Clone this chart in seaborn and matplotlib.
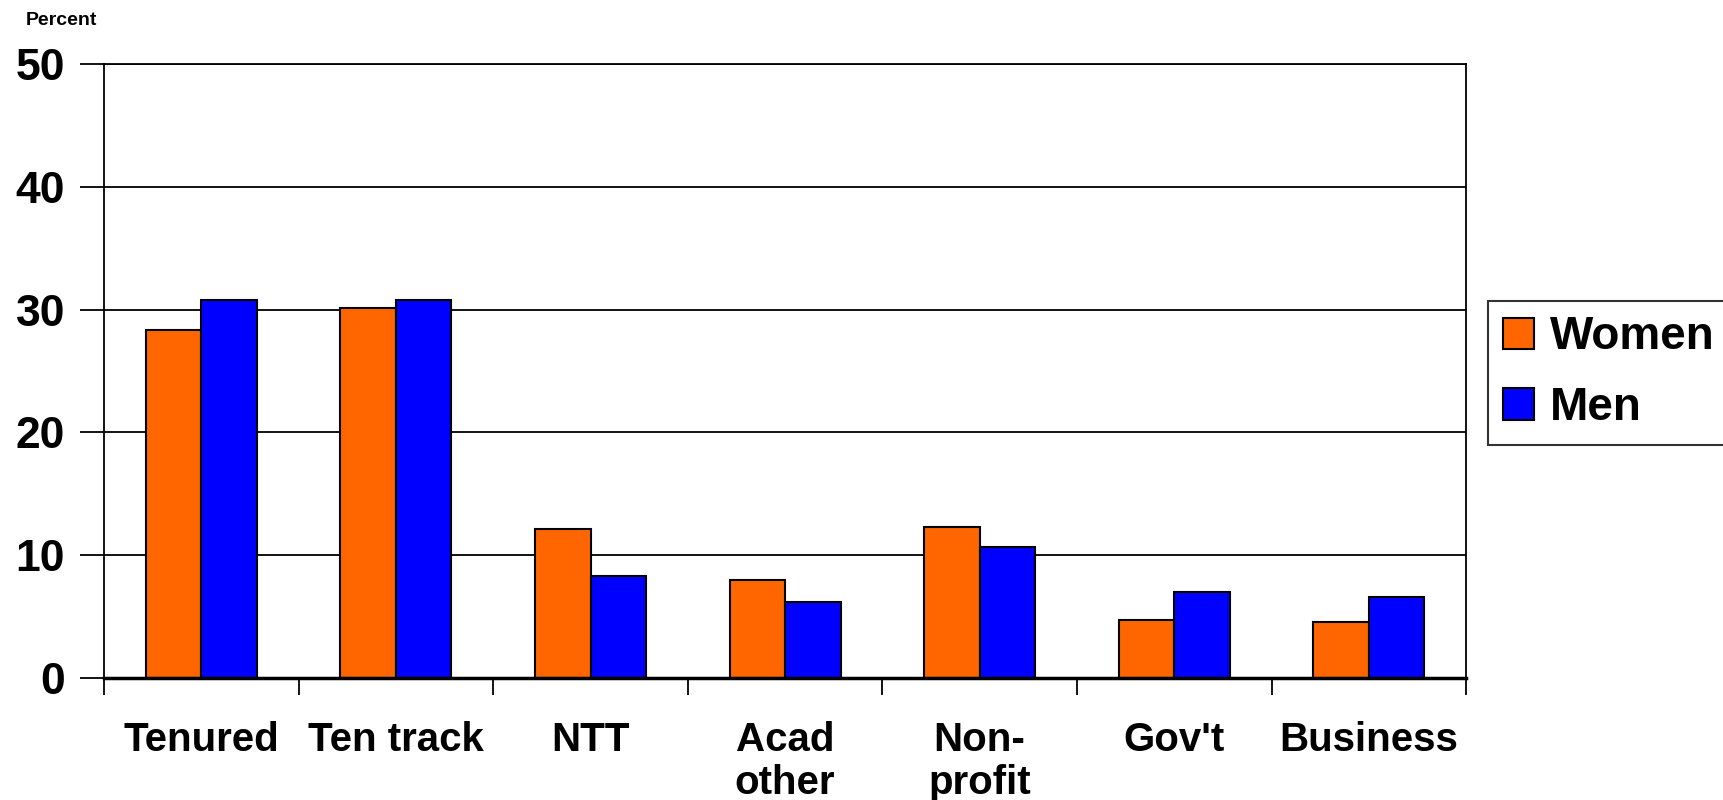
import pandas as pd
import matplotlib
matplotlib.use("Agg")
import matplotlib.pyplot as plt
import seaborn as sns

# values
categories = ["Tenured", "Ten track", "NTT", "Acad\nother", "Non-\nprofit", "Gov't", "Business"]
women = [28.3, 30.1, 12.1, 8.0, 12.3, 4.7, 4.6]
men = [30.8, 30.8, 8.3, 6.2, 10.7, 7.0, 6.6]
groups = ["Women", "Men"]
y_ticks = [0, 10, 20, 30, 40, 50]

sns.set_theme(style="white")
plt.rcParams['font.family'] = ['Liberation Sans', 'DejaVu Sans']
plt.rcParams['font.weight'] = 'bold'
plt.rcParams['text.color'] = 'black'
plt.rcParams['xtick.color'] = 'black'
plt.rcParams['ytick.color'] = 'black'

df = pd.DataFrame({
    'Category': categories * 2,
    'Group': [groups[0]] * len(categories) + [groups[1]] * len(categories),
    'Percent': women + men,
})

fig = plt.figure(figsize=(17.23, 8), dpi=100)
ax = fig.add_axes([0.0604, 0.1525, 0.7905, 0.7675])

sns.barplot(data=df, x='Category', y='Percent', hue='Group', order=categories,
            hue_order=groups, palette={'Women': '#FF6600', 'Men': '#0000FF'},
            width=0.57, gap=0, edgecolor='black', linewidth=1.5, saturation=1,
            errorbar=None, ax=ax)

ax.set_ylim(0, 50)
ax.set_xlim(-0.5, len(categories) - 0.5)
ax.set_yticks(y_ticks)
ax.yaxis.grid(True, color='black', linewidth=1.3)
ax.set_axisbelow(True)
ax.set_xlabel('')
ax.set_ylabel('')

for side in ['left', 'right', 'top', 'bottom']:
    ax.spines[side].set_visible(True)
    ax.spines[side].set_color('black')
    ax.spines[side].set_linewidth(1.3)
ax.spines['bottom'].set_linewidth(2.5)

# category labels in the middle, tick marks on the boundaries
ax.set_xticks(range(len(categories)))
ax.set_xticklabels(categories, fontsize=29, fontweight='bold', linespacing=1.18)
ax.set_xticks([i - 0.5 for i in range(len(categories) + 1)], minor=True)
ax.tick_params(axis='x', which='major', length=0, pad=31)
ax.tick_params(axis='x', which='minor', direction='out', length=12, width=1.3, color='black', bottom=True)
ax.tick_params(axis='y', direction='out', length=17, width=1.3, color='black', pad=11, left=True)
for lbl in ax.get_yticklabels():
    lbl.set_fontsize(32)
    lbl.set_fontweight('bold')

fig.text(0.0354, 0.974, 'Percent', fontsize=14, fontweight='bold', ha='center', va='center')

handles, labels = ax.get_legend_handles_labels()
ax.get_legend().remove()
leg = fig.legend(handles, labels, loc='upper left', bbox_to_anchor=(0.8636, 0.624),
                 fontsize=33, frameon=True, fancybox=False, shadow=False,
                 handlelength=0.68, handleheight=0.68, handletextpad=0.35,
                 borderpad=0.32, labelspacing=0.58, borderaxespad=0)
leg.get_frame().set_edgecolor('black')
leg.get_frame().set_linewidth(1.5)
for t in leg.get_texts():
    t.set_fontweight('bold')

fig.savefig('out.png', dpi=100)
